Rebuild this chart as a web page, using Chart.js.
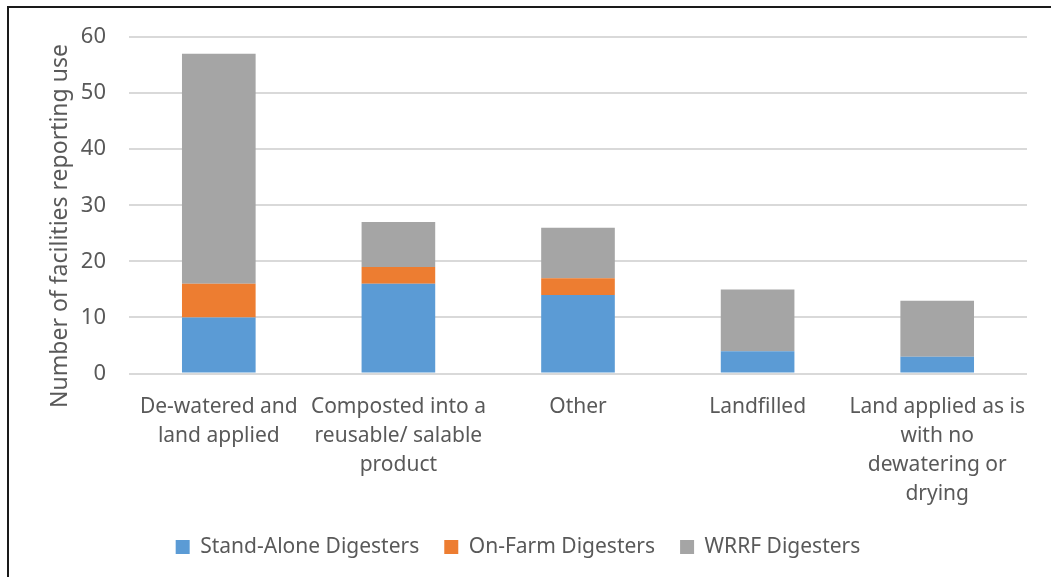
<!DOCTYPE html>
<html>
<head>
<meta charset="utf-8">
<script src="https://cdn.jsdelivr.net/npm/chart.js@4"></script>
<style>
  html, body { margin: 0; padding: 0; background: #fff; overflow: hidden; }
  .frame {
    position: absolute; left: 7px; top: 6px; width: 1060px; height: 590px;
    border-left: 2px solid #1a1a1a; border-top: 2px solid #1a1a1a;
  }
  .chart-box { position: absolute; left: 9px; top: 8px; width: 1042px; height: 569px; }
</style>
</head>
<body>
<div class="frame"></div>
<div class="chart-box"><canvas id="chartUses"></canvas></div>
<script>
const categories = [
  ['De-watered and', 'land applied'],
  ['Composted into a', 'reusable/ salable', 'product'],
  'Other',
  'Landfilled',
  ['Land applied as is', 'with no', 'dewatering or', 'drying'],
];
const standAlone = [10, 16, 14, 4, 3];
const onFarm = [6, 3, 3, 0, 0];
const wrrf = [41, 8, 9, 11, 10];
const yTicks = [0, 10, 20, 30, 40, 50, 60];
const yTitle = 'Number of facilities reporting use';

const textColor = '#595959';
const fontFamily = '"Noto Sans", "Open Sans", sans-serif';

// y title drawn by hand so it can sit off-center like the original
const yTitlePlugin = {
  id: 'yTitle',
  afterDraw(chart) {
    const { ctx } = chart;
    ctx.save();
    ctx.translate(51, 218);
    ctx.rotate(-Math.PI / 2);
    ctx.font = `23px ${fontFamily}`;
    ctx.fillStyle = textColor;
    ctx.textAlign = 'center';
    ctx.textBaseline = 'middle';
    ctx.fillText(yTitle, 0, 0);
    ctx.restore();
  },
};

new Chart(document.getElementById('chartUses'), {
  type: 'bar',
  data: {
    labels: categories,
    datasets: [
      { label: 'Stand-Alone Digesters', data: standAlone, backgroundColor: '#5B9BD5' },
      { label: 'On-Farm Digesters', data: onFarm, backgroundColor: '#ED7D31' },
      { label: 'WRRF Digesters', data: wrrf, backgroundColor: '#A5A5A5' },
    ],
  },
  options: {
    responsive: true,
    maintainAspectRatio: false,
    animation: false,
    datasets: { bar: { categoryPercentage: 1, barPercentage: 0.41 } },
    layout: { padding: { top: 29, right: 24, left: 0, bottom: 9.5 } },
    plugins: {
      tooltip: { enabled: false },
      legend: {
        position: 'bottom',
        labels: {
          color: textColor,
          font: { family: fontFamily, size: 21 },
          boxWidth: 14,
          boxHeight: 14,
          padding: 25,
        },
      },
    },
    scales: {
      x: {
        stacked: true,
        afterFit(scale) {
          // labels may run into the gap above the legend, as in the original
          scale.height -= 16;
        },
        grid: { display: false, drawTicks: false },
        border: { display: false },
        ticks: {
          color: textColor,
          font: { family: fontFamily, size: 21, lineHeight: 1.38 },
          padding: 19,
          maxRotation: 0,
          autoSkip: false,
        },
      },
      y: {
        stacked: true,
        min: 0,
        max: 60,
        afterBuildTicks(scale) {
          scale.ticks = yTicks.map((value) => ({ value }));
        },
        afterFit(scale) {
          scale.width = 120;
        },
        grid: { color: '#D9D9D9', lineWidth: 2, tickLength: 20, tickColor: 'rgba(0,0,0,0)' },
        border: { display: false },
        ticks: {
          color: textColor,
          font: { family: fontFamily, size: 22 },
          padding: 3,
        },
      },
    },
  },
  plugins: [yTitlePlugin],
});
</script>
</body>
</html>
